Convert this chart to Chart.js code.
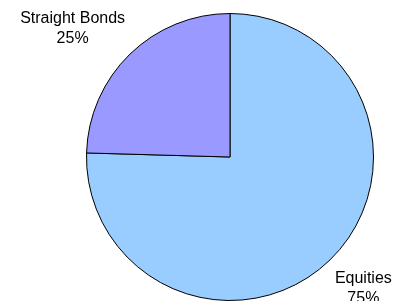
<!DOCTYPE html>
<html>
<head>
<meta charset="utf-8">
<script src="https://cdn.jsdelivr.net/npm/chart.js@4"></script>
<style>
  html, body { margin: 0; padding: 0; background: #fff; }
  #wrap { width: 394px; height: 301px; }
</style>
</head>
<body>
<div id="wrap"><canvas id="pieChart" width="394" height="301"></canvas></div>
<script>
const categories = ['Equities', 'Straight Bonds'];
const shares = [75.45, 24.55];
const sliceColors = ['#99CCFF', '#9999FF'];

// Excel style outside-end labels: category on one line, percent below
const outsideLabels = {
    id: 'outsideLabels',
    afterDatasetsDraw(chart) {
        const ctx = chart.ctx;
        const meta = chart.getDatasetMeta(0);
        const total = shares.reduce((a, b) => a + b, 0);
        ctx.save();
        ctx.font = '16px "Liberation Sans", Arial, sans-serif';
        ctx.fillStyle = '#000';
        ctx.textAlign = 'center';
        ctx.textBaseline = 'alphabetic';
        meta.data.forEach((arc, i) => {
            const p = arc.getProps(['x', 'y', 'startAngle', 'endAngle', 'outerRadius'], true);
            const mid = (p.startAngle + p.endAngle) / 2;
            const dx = Math.cos(mid), dy = Math.sin(mid);
            const ax = p.x + dx * (p.outerRadius + 7);
            const ay = p.y + dy * (p.outerRadius + 7);
            const lines = [categories[i], Math.round(shares[i] / total * 100) + '%'];
            const w = Math.max(...lines.map(t => ctx.measureText(t).width));
            const cx = dx >= 0 ? ax + w / 2 : ax - w / 2;
            const lineH = 20;
            let firstBase = dy >= 0 ? ay + 18 : ay - 6 - lineH * (lines.length - 1);
            lines.forEach((t, k) => ctx.fillText(t, cx, firstBase + k * lineH));
        });
        ctx.restore();
    }
};

new Chart(document.getElementById('pieChart'), {
    type: 'pie',
    data: {
        labels: categories,
        datasets: [{
            data: shares,
            backgroundColor: sliceColors,
            borderColor: '#000',
            borderWidth: 1
        }]
    },
    options: {
        responsive: false,
        animation: false,
        layout: { padding: { top: 13, bottom: 0, left: 86, right: 20 } },
        plugins: {
            legend: { display: false },
            tooltip: { enabled: false }
        }
    },
    plugins: [outsideLabels]
});
</script>
</body>
</html>
